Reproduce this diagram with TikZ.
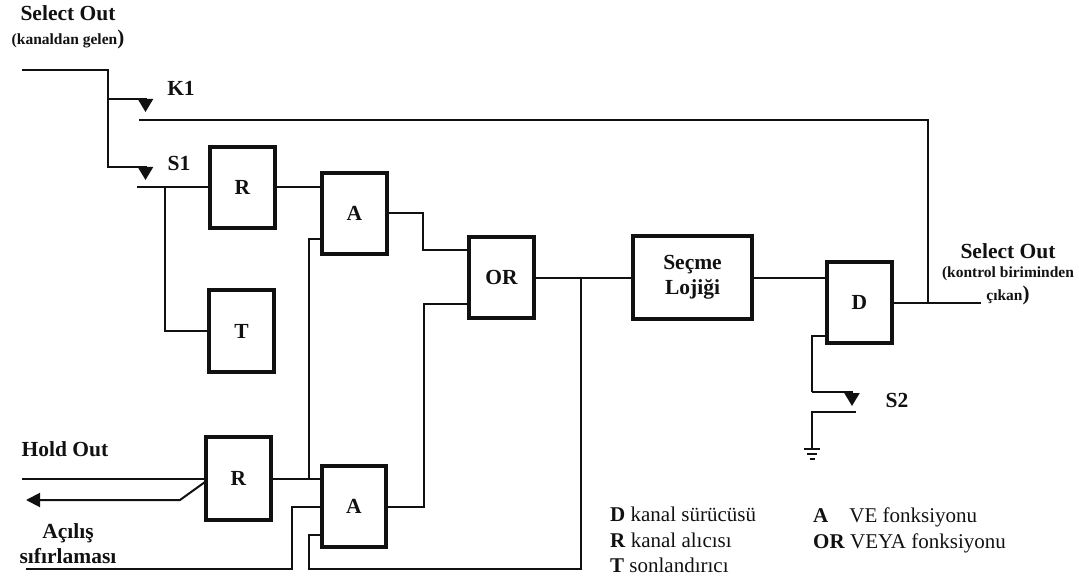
\documentclass[tikz,border=0pt]{standalone}
\usepackage{fontspec}
\setmainfont{Liberation Serif}
\usepackage{xcolor}
\usetikzlibrary{
  arrows.meta,
  positioning,
  calc
}
\definecolor{FigInk}{HTML}{111111}
\newcommand{\bigparen}{{\fontsize{21}{23}\selectfont )}}

\begin{document}
\begin{tikzpicture}[
x=1pt,
y=-1pt,
font=\fontsize{21}{25.5}\selectfont,
>=Latex,
block/.style={
draw=FigInk,
line width=3.6pt,
minimum width=64.5pt,
minimum height=81.5pt,
inner sep=0pt,
align=center,
font=\fontsize{21.5}{25.5}\selectfont\bfseries
},
wire/.style={draw=FigInk, line width=2pt},
contact/.style={wire, -{Triangle[width=15pt,length=13pt]}},
heading/.style={inner sep=0pt, align=center, font=\fontsize{21.5}{25.5}\selectfont\bfseries},
subhead/.style={inner sep=0pt, align=center, font=\fontsize{15.5}{23}\selectfont\bfseries},
legend/.style={inner sep=0pt, anchor=west, align=left},
every node/.style={text=FigInk}
]
\useasboundingbox (0,0) rectangle (1079,580);

% Channel receivers and terminator
\node[block] (rone) at (242.5,187.5) {R};
\node[block, minimum height=82.5pt] (term) at (241.5,331) {T};
\node[block, minimum height=83.5pt] (rtwo) at (238.5,478.5) {R};

% AND functions
\node[block] (aone) at (354.5,213.5) {A};
\node[block] (atwo) at (354,506.5) {A};

% OR function
\node[block] (orgate) at (501.5,277.5) {OR};

% Select logic
\node[block, minimum width=119.5pt, minimum height=83pt] (logic) at (692.5,277.5) {Seçme\\Lojiği};

% Channel driver
\node[block] (driver) at (859.5,302.5) {D};

% Free ends and taps
\coordinate (selin) at (22,70);
\coordinate (ktap) at (108,99);
\coordinate (ktip) at (145.5,112);
\coordinate (stap) at (108,167);
\coordinate (stip) at (145.5,180);
\coordinate (kline) at (139,120);
\coordinate (kjoin) at (928,302.5);
\coordinate (sline) at (137,187.5);
\coordinate (sdrop) at (165,187.5);
\coordinate (selout) at (981,302.5);
\coordinate (holdin) at (22,479);
\coordinate (holdback) at (26,500);
\coordinate (holdbend) at (180,500);
\coordinate (holdend) at (205,482);
\coordinate (aonelow) at (321,239);
\coordinate (sharedrun) at (309,478.5);
\coordinate (oneout) at (423,213.5);
\coordinate (orhigh) at (468,250);
\coordinate (twoout) at (424,506.5);
\coordinate (orlow) at (468,304);
\coordinate (resetin) at (26,569);
\coordinate (resetup) at (292,506.5);
\coordinate (atwomid) at (321,506.5);
\coordinate (atwolow) at (321,535);
\coordinate (feedlow) at (309,569);
\coordinate (feedup) at (581,277.5);
\coordinate (dlow) at (812,336);
\coordinate (dtap) at (812,392);
\coordinate (dtip) at (852,406);
\coordinate (sopen) at (856,412);
\coordinate (scorner) at (812,412);
\coordinate (gnd) at (812,449);

% Labels
\node[heading] (seltitle) at (68,13) {Select Out};
\node[subhead] (selnote) at (68,39.5) {(kanaldan gelen\bigparen};
\node[heading] (kname) at (181,88) {K1};
\node[heading] (sname) at (179,163) {S1};
\node[heading] (holdtitle) at (65,449) {Hold Out};
\node[heading] (resettitle) at (68,543.5) {Açılış\\sıfırlaması};
\node[heading] (outtitle) at (1008,251) {Select Out};
\node[subhead] (outnote) at (1008,285.5) {(kontrol biriminden\\çıkan\bigparen};
\node[heading] (stwoname) at (897,400) {S2};

% Legend
\node[legend] (legleft) at (610,540) {\textbf{D} kanal sürücüsü\\\textbf{R} kanal alıcısı\\\textbf{T} sonlandırıcı};
\node[legend] (legright) at (813,530.5) {\textbf{A}\hspace{21pt}VE fonksiyonu\\\textbf{OR} VEYA fonksiyonu};

% Select Out input and contacts
\draw[wire] (selin) -| (stap) -- (stap -| stip);
\draw[contact] (ktap) -| (ktip);
\draw[contact] (stap) -| (stip);
\draw[wire] (kline) -| (kjoin);
\draw[wire] (sline) -- (rone.west);
\draw[wire] (sdrop) |- (term.west);

% Gate connections
\draw[wire] (rone.east) -- (rone.east -| aone.west);
\draw[wire] (aonelow) -| (sharedrun);
\draw[wire] (rtwo.east) -- (rtwo.east -| atwo.west);
\draw[wire] (aone.east) -- (oneout) |- (orhigh);
\draw[wire] (atwo.east) -- (twoout) |- (orlow);
\draw[wire] (orgate.east) -- (logic.west);
\draw[wire] (logic.east) -- (logic.east -| driver.west);
\draw[wire] (driver.east) -- (selout);

% Hold Out lines
\draw[wire] (holdin) -- (holdin -| rtwo.west);
\draw[wire, {Triangle[width=14pt,length=14pt]}-] (holdback) -- (holdbend) -- (holdend);

% Reset lines
\draw[wire] (resetin) -| (resetup) -- (atwomid);
\draw[wire] (atwolow) -| (feedlow) -| (feedup);

% Driver contact and ground
\draw[wire] (dlow -| driver.west) -- (dlow) -- (dtap);
\draw[contact] (dtap) -| (dtip);
\draw[wire] (sopen) -- (scorner) -- (gnd);
\draw[wire] ($(gnd)+(-8,0)$) -- ($(gnd)+(8,0)$);
\draw[wire] ($(gnd)+(-5,5)$) -- ($(gnd)+(5,5)$);
\draw[wire] ($(gnd)+(-2.5,10)$) -- ($(gnd)+(2.5,10)$);

\end{tikzpicture}
\end{document}
